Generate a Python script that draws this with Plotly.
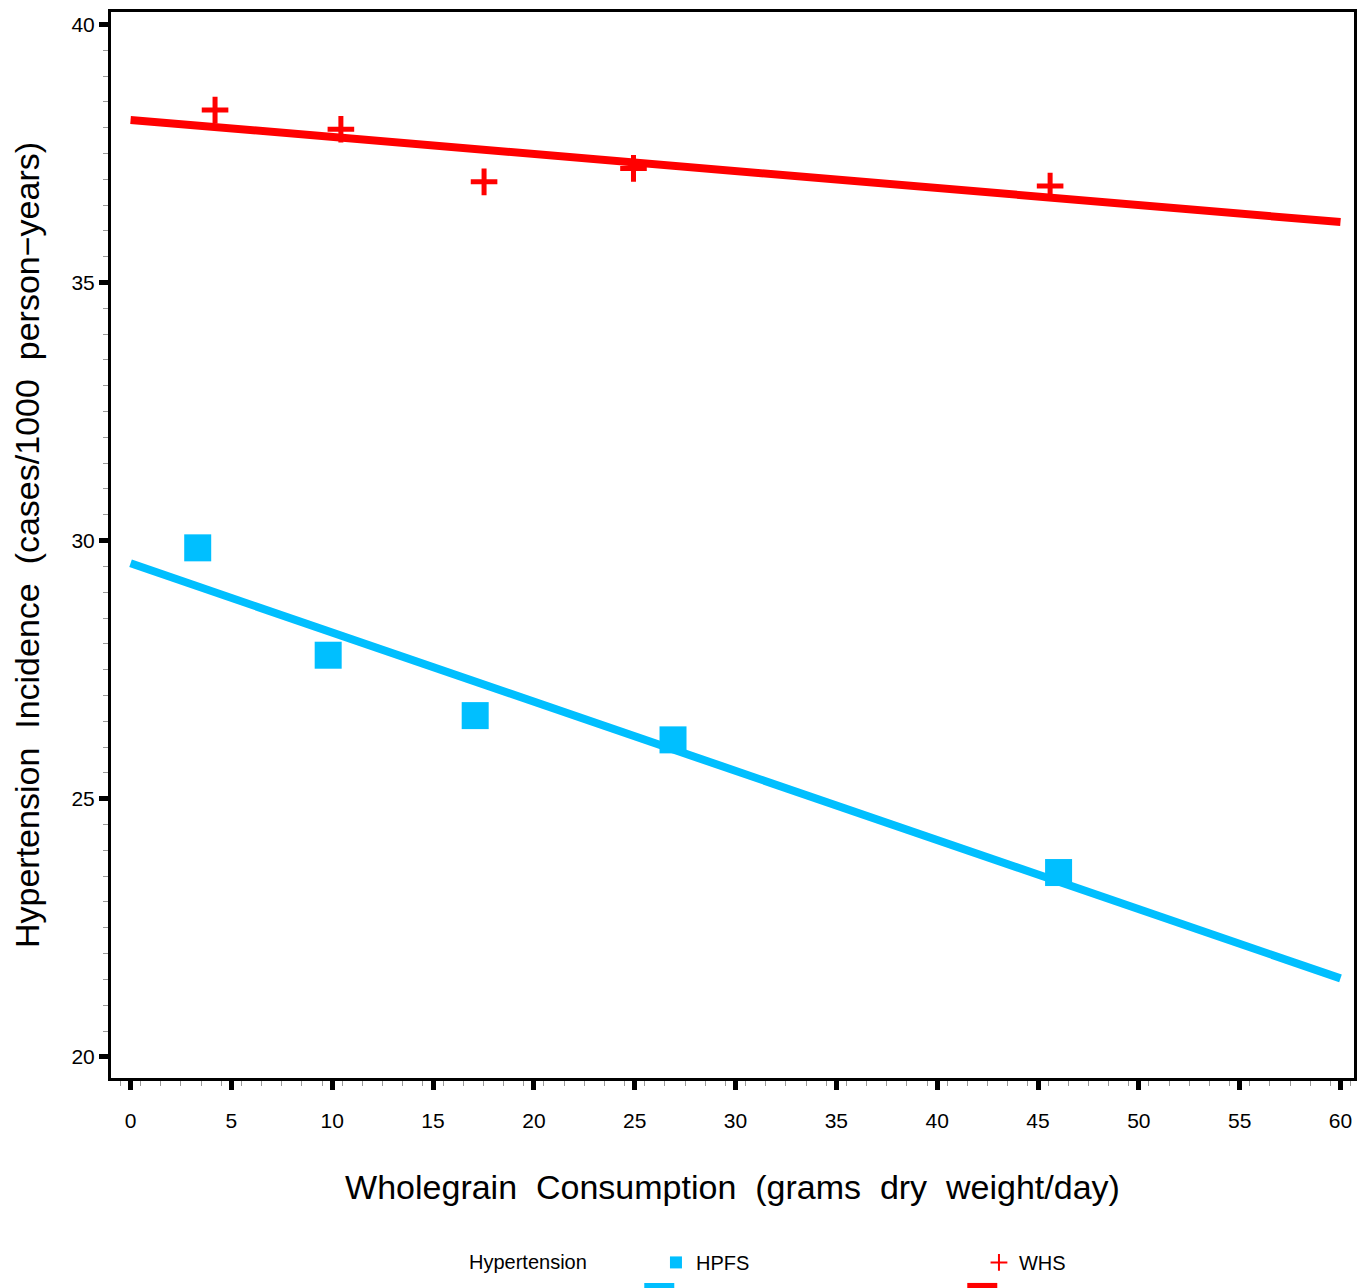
import plotly.graph_objects as go

# ---- data ----
hpfs_x = [3.33, 9.8, 17.09, 26.9, 46.02]
hpfs_y = [29.86, 27.78, 26.61, 26.14, 23.57]
whs_x = [4.19, 10.43, 17.53, 24.94, 45.6]
whs_y = [38.34, 37.97, 36.95, 37.21, 36.87]
fit_x = [0, 60]
hpfs_fit_y = [29.56, 21.52]
whs_fit_y = [38.15, 36.17]
x_ticks = [0, 5, 10, 15, 20, 25, 30, 35, 40, 45, 50, 55, 60]
y_ticks = [20, 25, 30, 35, 40]

BLUE = "#00BFFF"
RED = "#FF0000"
FONT = "Liberation Sans, Arial, sans-serif"
NB = "\u00a0"

fig = go.Figure()
fig.add_trace(go.Scatter(x=fit_x, y=hpfs_fit_y, mode="lines", name=" ",
                         line=dict(color=BLUE, width=8), legend="legend2"))
fig.add_trace(go.Scatter(x=fit_x, y=whs_fit_y, mode="lines", name=" ",
                         line=dict(color=RED, width=8), legend="legend2"))
fig.add_trace(go.Scatter(x=hpfs_x, y=hpfs_y, mode="markers", name="HPFS",
                         marker=dict(symbol="square", size=27, color=BLUE,
                                     line=dict(width=0)), legend="legend"))
fig.add_trace(go.Scatter(x=whs_x, y=whs_y, mode="markers", name="WHS",
                         marker=dict(symbol="cross-thin", size=19,
                                     color=RED, line=dict(width=5, color=RED)),
                         legend="legend"))

axis_common = dict(
    showline=True, linewidth=3, linecolor="black", mirror=True,
    showgrid=False, zeroline=False, automargin=False,
    ticks="outside", ticklen=9, tickwidth=5, tickcolor="black",
    tickfont=dict(family=FONT, size=21, color="black"),
)

fig.update_xaxes(
    range=[-0.97, 60.67], tickvals=x_ticks,
    ticktext=[str(v) for v in x_ticks],
    minor=dict(ticks="outside", ticklen=5, tickwidth=1, tickcolor="#999999",
               tick0=0.5, dtick=1),
    ticklabelstandoff=13,
    title=dict(text=f"Wholegrain{NB} Consumption{NB} (grams{NB} dry{NB} weight/day)",
               font=dict(family=FONT, size=34, color="black"), standoff=44),
    **axis_common,
)
fig.update_yaxes(
    range=[19.59, 40.24], tickvals=y_ticks,
    ticktext=[str(v) for v in y_ticks],
    minor=dict(ticks="outside", ticklen=5, tickwidth=1, tickcolor="#999999",
               tick0=0, dtick=0.5),
    title=dict(text=f"Hypertension{NB} Incidence{NB} (cases/1000{NB} person\u2212years)",
               font=dict(family=FONT, size=34, color="black"), standoff=22),
    **axis_common,
)

fig.update_layout(
    width=1366, height=1288,
    margin=dict(l=111, r=12, t=12, b=210, autoexpand=False),
    paper_bgcolor="white", plot_bgcolor="white",
    font=dict(family=FONT, color="black"),
    legend=dict(orientation="h", x=0.2864, xanchor="left", y=-0.173, yanchor="middle",
                title=dict(text="Hypertension" + NB * 11, font=dict(family=FONT, size=20)),
                font=dict(family=FONT, size=20), entrywidth=278,
                itemsizing="constant", bgcolor="rgba(0,0,0,0)"),
    legend2=dict(orientation="h", x=0.425, xanchor="left", y=-0.196, yanchor="middle",
                 font=dict(family=FONT, size=20), entrywidth=278,
                 bgcolor="rgba(0,0,0,0)"),
)

fig.write_html("out.html")
